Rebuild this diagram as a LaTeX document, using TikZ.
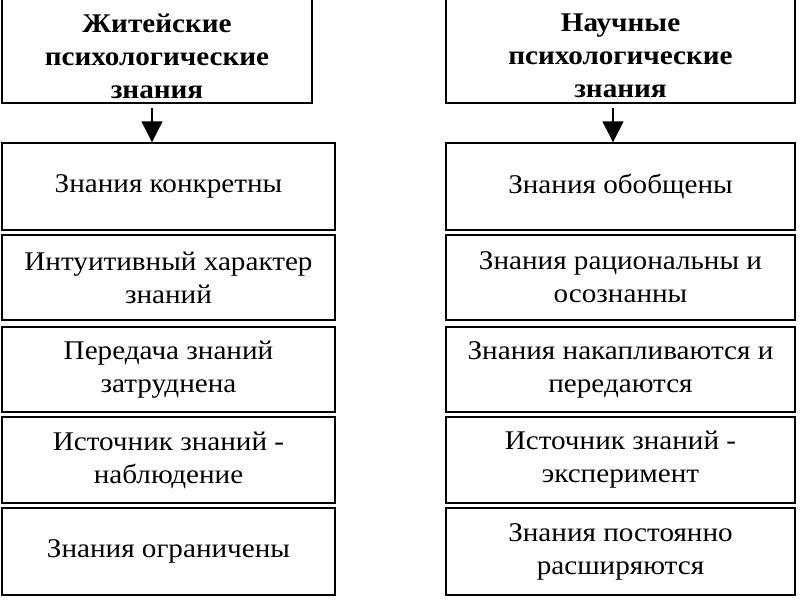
\documentclass[tikz,border=0pt]{standalone}
\usepackage{fontspec}
\setmainfont{Liberation Serif}[FakeStretch=1.08]
\usetikzlibrary{arrows.meta}
\tikzset{
  rowbox/.style={draw, line width=1.4pt, align=center, inner sep=0pt, font=\fontsize{27}{33}\selectfont},
  headbox/.style={draw, line width=1.4pt, inner sep=0pt},
  headtext/.style={align=center, inner sep=0pt, font=\fontsize{27}{33}\selectfont\bfseries},
  flow/.style={line width=1.4pt, -{Triangle[width=21pt,length=21pt]}, shorten <=4pt}
}
\begin{document}
\begin{tikzpicture}[x=1pt,y=-1pt]
\useasboundingbox[fill=white] (0,0) rectangle (800,600);
% headers
\node[headbox, minimum width=310pt, minimum height=130pt] (hl) at (157,38) {};
\node[headtext] (hlt) at (157,56) {Житейские\\психологические\\знания};
\node[headbox, minimum width=349pt, minimum height=130pt] (hr) at (620.5,38) {};
\node[headtext] (hrt) at (620.5,56) {Научные\\психологические\\знания};
% left column
\node[rowbox, minimum width=333pt, minimum height=87pt] (l1) at (168.5,186.5) {Знания конкретны};
\node[rowbox, minimum width=333pt, minimum height=85pt] (l2) at (168.5,277.5) {Интуитивный характер\\знаний};
\node[rowbox, minimum width=333pt, minimum height=85pt] (l3) at (168.5,369.5) {Передача знаний\\затруднена};
\node[rowbox, minimum width=333pt, minimum height=86pt] (l4) at (168.5,460) {Источник знаний -\\наблюдение};
\node[rowbox, minimum width=333pt, minimum height=87pt] (l5) at (168.5,551.5) {Знания ограничены};
% right column
\node[rowbox, minimum width=349pt, minimum height=87pt] (r1) at (620.5,186.5) {Знания обобщены};
\node[rowbox, minimum width=349pt, minimum height=85pt] (r2) at (620.5,277.5) {Знания рациональны и\\осознанны};
\node[rowbox, minimum width=349pt, minimum height=85pt] (r3) at (620.5,369.5) {Знания накапливаются и\\передаются};
\node[rowbox, minimum width=349pt, minimum height=86pt] (r4) at (620.5,460) {Источник знаний -\\эксперимент};
\node[rowbox, minimum width=349pt, minimum height=87pt] (r5) at (620.5,551.5) {Знания постоянно\\расширяются};
% arrows
\draw[flow] (hl.south -| 152,0) -- (l1.north -| 152,0);
\draw[flow] (hr.south -| 613,0) -- (r1.north -| 613,0);
\end{tikzpicture}
\end{document}
